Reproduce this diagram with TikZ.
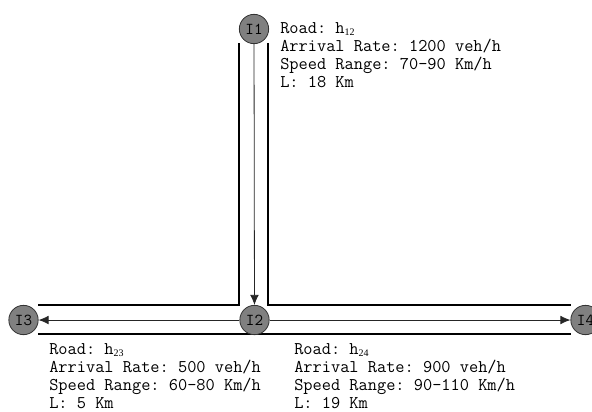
\documentclass[tikz,border=0pt]{standalone}
\usepackage{fontspec}
\newfontfamily\subfont{Liberation Serif}
\usetikzlibrary{arrows.meta}
\newcommand\sbs[1]{\raisebox{-0.3ex}{\fontsize{7.5}{7.5}\subfont #1}}
\begin{document}
\begin{tikzpicture}[x=0.75pt,y=-0.75pt,
  inter/.style={circle,draw=black!80,line width=0.6pt,fill=black!50,minimum size=22pt,inner sep=0pt,font=\ttfamily\fontsize{12.5}{12.5}\selectfont},
  road/.style={line width=1.8pt,line cap=butt},
  flow/.style={line width=0.6pt,draw=black!85,-{Latex[length=7.5pt,width=6.5pt]}},
  info/.style={anchor=north west,inner sep=0pt,align=left,font=\ttfamily\frenchspacing\fontsize{13.4}{13.7}\selectfont}]
\useasboundingbox (0,0) rectangle (592,411);
% roads
\draw[road] (239,43) -- (239,305) -- (38,305);
\draw[road] (268,43) -- (268,305) -- (571,305);
\draw[road] (38,334) -- (571,334);
% intersections
\node[inter] (I1) at (254,29) {I1};
\node[inter] (I2) at (254.5,320) {I2};
\node[inter] (I3) at (23.5,320) {I3};
\node[inter] (I4) at (585.5,320) {I4};
% flows
\draw[flow] (I1) -- (I2);
\draw[flow] (I2) -- (I3);
\draw[flow] (I2) -- (I4);
% labels
\node[info] (t12) at (280,22) {Road: h\sbs{12}\\Arrival Rate: 1200 veh/h\\Speed Range: 70-90 Km/h\\L: 18 Km};
\node[info] (t23) at (49,343) {Road: h\sbs{23}\\Arrival Rate: 500 veh/h\\Speed Range: 60-80 Km/h\\L: 5 Km};
\node[info] (t24) at (294,343) {Road: h\sbs{24}\\Arrival Rate: 900 veh/h\\Speed Range: 90-110 Km/h\\L: 19 Km};
\end{tikzpicture}
\end{document}
